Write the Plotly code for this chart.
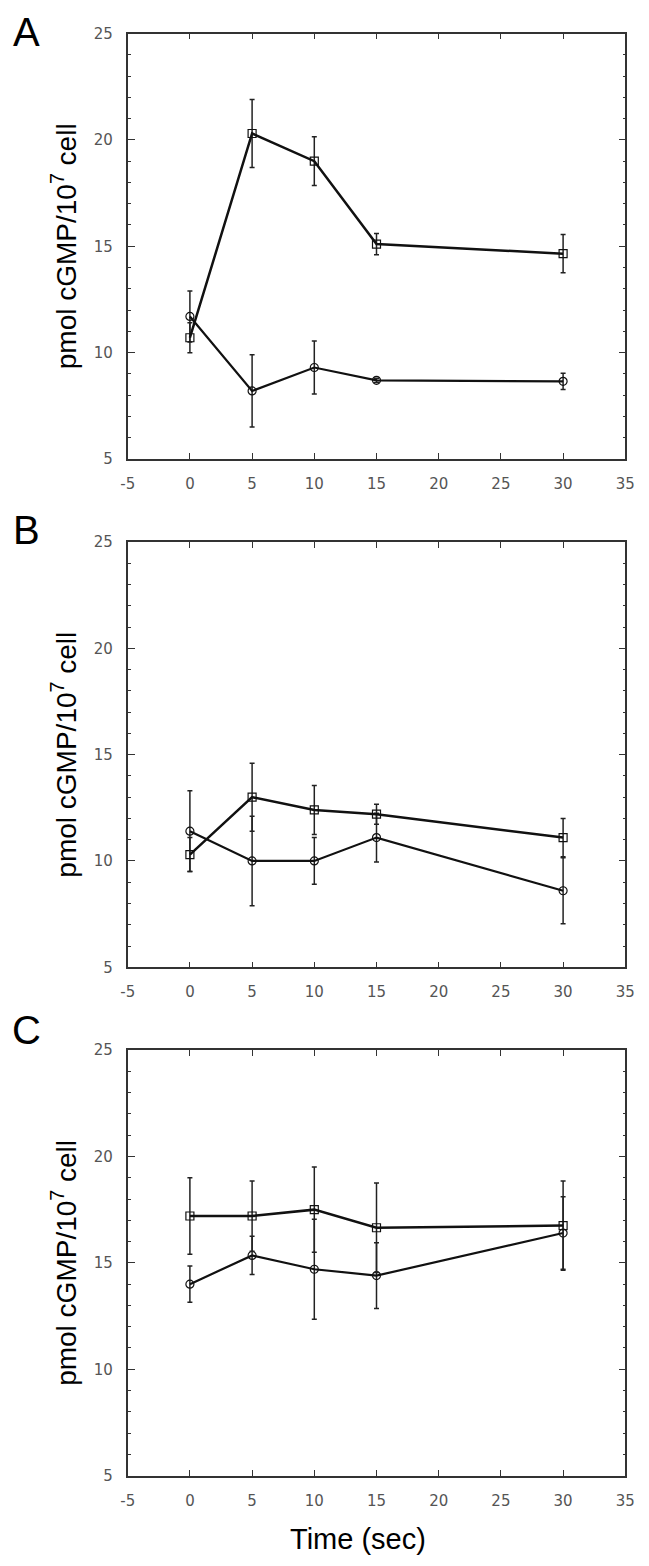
import plotly.graph_objects as go

time = [0, 5, 10, 15, 30]

A_sq = [10.7, 20.3, 19.0, 15.1, 14.65]
A_sq_err = [0.7, 1.6, 1.15, 0.5, 0.9]
A_ci = [11.7, 8.2, 9.3, 8.7, 8.65]
A_ci_err = [1.2, 1.7, 1.25, 0.1, 0.38]

B_sq = [10.3, 13.0, 12.4, 12.2, 11.1]
B_sq_err = [0.8, 1.6, 1.15, 0.47, 0.9]
B_ci = [11.4, 10.0, 10.0, 11.1, 8.6]
B_ci_err = [1.9, 2.1, 1.1, 1.15, 1.55]

C_sq = [17.2, 17.2, 17.5, 16.65, 16.75]
C_sq_err = [1.8, 1.65, 2.0, 2.1, 2.1]
C_ci = [14.0, 15.35, 14.7, 14.4, 16.4]
C_ci_err = [0.85, 0.9, 2.35, 1.55, 1.7]

x_ticks = [-5, 0, 5, 10, 15, 20, 25, 30, 35]
x_ticklabels = ["-5", "0", "5", "10", "15", "20", "25", "30", "35"]
y_ticks = [5, 10, 15, 20, 25]
y_ticklabels = ["5", "10", "15", "20", "25"]

panel_labels = ["A", "B", "C"]
y_title = "pmol cGMP/10<sup>7</sup> cell"
x_title = "Time (sec)"

OFF = 8  # default page body margin
W, H = 649 - OFF, 1566 - OFF


def px_x(sx):
    return (sx - OFF) / W


def px_y(sy):
    return 1 - (sy - OFF) / H


x_dom = [px_x(127.7), px_x(625.3)]
panels_px = [(33.5, 459), (542, 967.3), (1050, 1475.7)]
y_doms = [[px_y(b), px_y(t)] for t, b in panels_px]

panels = [
    (A_sq, A_sq_err, A_ci, A_ci_err),
    (B_sq, B_sq_err, B_ci, B_ci_err),
    (C_sq, C_sq_err, C_ci, C_ci_err),
]

fig = go.Figure()
FONT = "Liberation Sans, Arial, sans-serif"
TFONT = "DejaVu Sans, Verdana, sans-serif"

for i, (sq, sqe, ci, cie) in enumerate(panels):
    xa = "x" if i == 0 else f"x{i+1}"
    ya = "y" if i == 0 else f"y{i+1}"
    for vals, errs, sym, lw in [(ci, cie, "circle-open", 2.2), (sq, sqe, "square-open", 2.5)]:
        fig.add_trace(go.Scatter(
            x=time, y=vals, xaxis=xa, yaxis=ya, mode="lines+markers",
            line=dict(color="#111", width=lw),
            marker=dict(symbol=sym, size=8, color="#111", line=dict(width=1.2, color="#111")),
            error_y=dict(type="data", array=errs, visible=True, color="#222",
                         thickness=1.5, width=2.5),
            showlegend=False,
        ))

axis_common = dict(
    showline=True, linecolor="#333", linewidth=1.6, mirror="allticks",
    ticks="inside", tickcolor="#333", tickwidth=1.3, showgrid=False, zeroline=False,
    automargin=False,
    tickfont=dict(family=TFONT, size=15, color="#555"),
)

layout = dict(width=W, height=H, margin=dict(l=0, r=0, t=0, b=0, autoexpand=False),
              paper_bgcolor="white", plot_bgcolor="white")
for i in range(3):
    sx = "" if i == 0 else str(i + 1)
    layout[f"xaxis{sx}"] = dict(axis_common, domain=x_dom, anchor=f"y{sx}",
                                range=[-5, 35], tickmode="array",
                                tickvals=x_ticks, ticktext=x_ticklabels, ticklen=6,
                                ticklabelstandoff=10)
    layout[f"yaxis{sx}"] = dict(axis_common, domain=y_doms[i], anchor=f"x{sx}",
                                range=[5, 25], tickmode="array",
                                tickvals=y_ticks, ticktext=y_ticklabels, ticklen=7,
                                ticklabelstandoff=10,
                                minor=dict(dtick=1, ticks="inside", ticklen=3,
                                           tickcolor="#333", tickwidth=1.2))
fig.update_layout(**layout)

annotations = []
letter_y = [32, 530, 1030]
for i in range(3):
    annotations.append(dict(text=panel_labels[i], x=px_x(26), y=px_y(letter_y[i]),
                            xref="paper", yref="paper", showarrow=False,
                            xanchor="center", yanchor="middle",
                            font=dict(family=FONT, size=40, color="#000")))
    t, b = panels_px[i]
    annotations.append(dict(text=y_title, x=px_x(64), y=px_y((t + b) / 2),
                            xref="paper", yref="paper", showarrow=False,
                            textangle=-90, xanchor="center", yanchor="middle",
                            font=dict(family=FONT, size=28, color="#000")))
annotations.append(dict(text=x_title, x=px_x(357.5), y=px_y(1539),
                        xref="paper", yref="paper", showarrow=False,
                        xanchor="center", yanchor="middle",
                        font=dict(family=FONT, size=29, color="#000")))
fig.update_layout(annotations=annotations)

fig.write_html("out.html")
